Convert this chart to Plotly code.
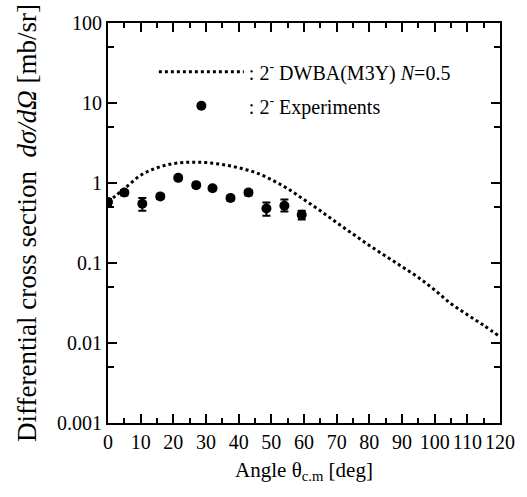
import plotly.graph_objects as go

# DWBA (M3Y) N=0.5 calculation
calc_angle = [0, 5, 10, 15, 20, 25, 30, 35, 40, 45, 50, 55, 60, 65, 70, 75, 80,
              85, 90, 95, 100, 105, 110, 115, 120]
calc_xs = [0.58, 0.85, 1.25, 1.55, 1.75, 1.82, 1.80, 1.70, 1.55, 1.36, 1.10, 0.85,
           0.62, 0.45, 0.32, 0.23, 0.166, 0.122, 0.09, 0.066, 0.046, 0.031, 0.0226,
           0.0166, 0.012]

# Experimental data
exp_angle = [0.0, 5.0, 10.5, 16.0, 21.5, 27.0, 32.0, 37.5, 43.0, 48.5, 54.0, 59.3]
exp_xs = [0.58, 0.76, 0.55, 0.68, 1.16, 0.94, 0.86, 0.65, 0.76, 0.48, 0.52, 0.40]
exp_err_up = [0.05, 0.06, 0.10, 0.05, 0.06, 0.06, 0.05, 0.05, 0.06, 0.09, 0.10, 0.05]
exp_err_dn = [0.05, 0.06, 0.10, 0.05, 0.06, 0.06, 0.05, 0.05, 0.06, 0.09, 0.08, 0.05]

y_major = [0.001, 0.01, 0.1, 1, 10, 100]
y_labels = ["0.001", "0.01", "0.1", "1", "10", "100"]
y_minor = [0.005, 0.05, 0.5, 5, 50]

FONT = "Liberation Serif"

fig = go.Figure()
fig.add_trace(go.Scatter(
    x=calc_angle, y=calc_xs, mode="lines",
    line=dict(color="black", width=3, dash="dot", shape="spline"),
    name=": 2<sup>-</sup> DWBA(M3Y) <i>N</i>=0.5", legendgroup="calc",
))
fig.add_trace(go.Scatter(
    x=exp_angle, y=exp_xs, mode="markers",
    marker=dict(color="black", size=10, symbol="circle"),
    error_y=dict(type="data", symmetric=False, array=exp_err_up, arrayminus=exp_err_dn,
                 color="black", thickness=2, width=4),
    name=": 2<sup>-</sup> Experiments", legendgroup="exp",
))

axis_common = dict(
    showline=True, linecolor="black", linewidth=2, mirror="allticks",
    ticks="inside", tickcolor="black", tickwidth=2, showgrid=False, zeroline=False,
    tickfont=dict(family=FONT, size=20, color="black"),
)

fig.update_layout(
    width=527, height=497,
    margin=dict(l=108, r=17, t=16, b=74),
    paper_bgcolor="white", plot_bgcolor="white",
    font=dict(family=FONT, color="black"),
    showlegend=True,
    legend=dict(x=0.117, y=0.927, xanchor="left", yanchor="top",
                bgcolor="rgba(0,0,0,0)", font=dict(family=FONT, size=20, color="black"),
                itemwidth=85, tracegroupgap=5),
    xaxis=dict(
        range=[0, 120], dtick=10, tick0=0, ticklen=9,
        minor=dict(dtick=5, ticklen=5, ticks="inside", tickcolor="black", tickwidth=2),
        title=dict(text="Angle θ<sub>c.m</sub> [deg]", font=dict(family=FONT, size=21), standoff=10),
        **axis_common,
    ),
    yaxis=dict(
        type="log", range=[-3, 2], tickvals=y_major, ticktext=y_labels, ticklen=9,
        minor=dict(tickvals=y_minor, ticklen=6, ticks="inside", tickcolor="black", tickwidth=2),
        title=dict(text="Differential cross section  <i>dσ/dΩ</i> [mb/sr]",
                   font=dict(family=FONT, size=27), standoff=13),
        **axis_common,
    ),
)

fig.write_html("out.html")
